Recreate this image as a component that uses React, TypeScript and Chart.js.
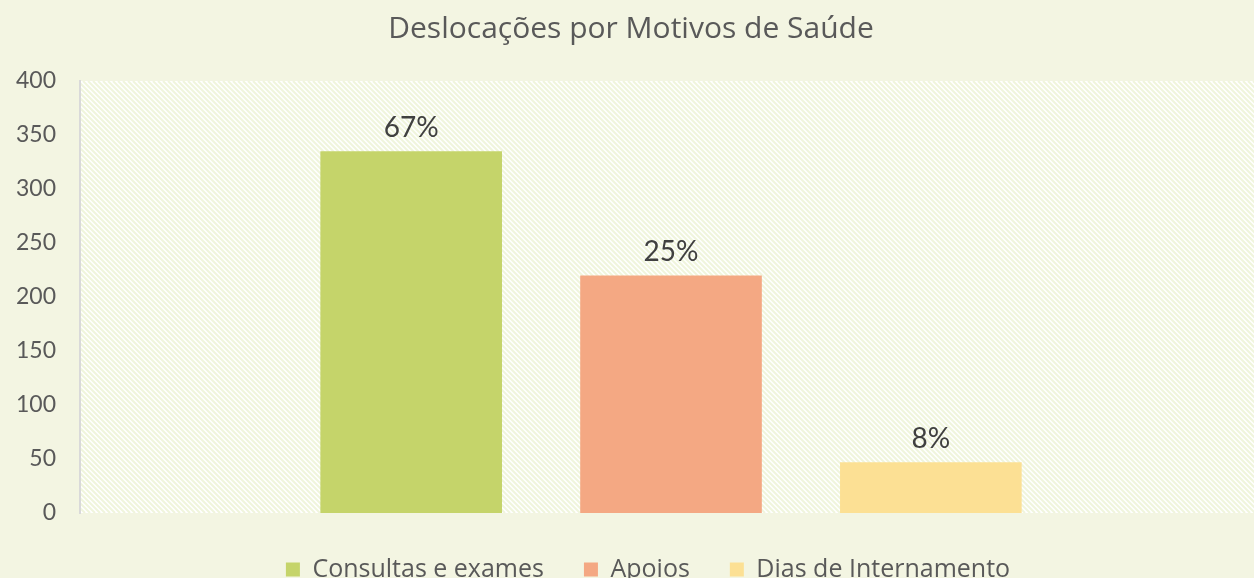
import React, { useEffect, useRef } from "react";
import { Chart, registerables } from "chart.js";

Chart.register(...registerables);

const categories = [""];
const seriesNames = ["Consultas e exames", "Apoios", "Dias de Internamento"];
const seriesValues = [[335], [220], [47]];
const percentLabels = ["67%", "25%", "8%"];
const seriesColors = ["#C5D46A", "#F4A883", "#FCE094"];
const yTicks = [0, 50, 100, 150, 200, 250, 300, 350, 400];

const BG = "#F3F5E2";
const FONT_NUM = "Lato, 'Open Sans', sans-serif";
const FONT_TXT = "'Open Sans', Lato, sans-serif";

const plotBgPlugin = {
  id: "plotBg",
  beforeDraw(chart: any) {
    const { ctx, chartArea } = chart;
    const { left, top, right, bottom } = chartArea;
    ctx.save();
    ctx.fillStyle = "#FFFFFF";
    ctx.fillRect(left, top, right - left, bottom - top);
    ctx.beginPath();
    ctx.rect(left, top, right - left, bottom - top);
    ctx.clip();
    ctx.strokeStyle = "#F0F5DC";
    ctx.lineWidth = 2;
    const h = bottom - top;
    for (let x = left - h; x < right + 10; x += 5) {
      ctx.beginPath();
      ctx.moveTo(x, top);
      ctx.lineTo(x + h, bottom);
      ctx.stroke();
    }
    ctx.restore();
  },
};

const legendShiftPlugin = {
  id: "legendShift",
  afterLayout(chart: any) {
    const l = chart.legend;
    if (l) {
      l.left += 17;
      l.right += 17;
      l.top -= 4;
      l.bottom -= 4;
    }
  },
};

const dataLabelPlugin = {
  id: "dataLabels",
  afterDatasetsDraw(chart: any) {
    const { ctx } = chart;
    ctx.save();
    ctx.fillStyle = "#404040";
    ctx.font = `28px ${FONT_NUM}`;
    ctx.textAlign = "center";
    ctx.textBaseline = "bottom";
    chart.data.datasets.forEach((_: any, i: number) => {
      const meta = chart.getDatasetMeta(i);
      meta.data.forEach((bar: any) => {
        ctx.fillText(percentLabels[i], bar.x, bar.y - 9);
      });
    });
    ctx.restore();
  },
};

export default function App() {
  const ref = useRef<HTMLCanvasElement>(null);
  useEffect(() => {
    if (!ref.current) return;
    const chart = new Chart(ref.current, {
      type: "bar",
      data: {
        labels: categories,
        datasets: seriesNames.map((name, i) => ({
          label: name,
          data: seriesValues[i],
          backgroundColor: seriesColors[i],
          borderWidth: 0,
          barPercentage: 0.699,
          categoryPercentage: 0.6595,
        })),
      },
      options: {
        animation: false,
        responsive: false,
        maintainAspectRatio: false,
        layout: { padding: { left: 0, right: 0, top: 0, bottom: 0 } },
        plugins: {
          title: {
            display: true,
            text: "Deslocações por Motivos de Saúde",
            color: "#595959",
            font: { family: FONT_TXT, size: 30, weight: "normal" },
            padding: { top: 11, bottom: 34 },
          },
          legend: {
            position: "bottom",
            labels: {
              color: "#595959",
              font: { family: FONT_TXT, size: 25 },
              boxWidth: 14,
              boxHeight: 14,
              padding: 40,
            },
          },
          tooltip: { enabled: false },
        },
        scales: {
          x: {
            grid: { display: false },
            border: { display: false },
            ticks: { display: false },
          },
          y: {
            min: 0,
            max: 400,
            afterBuildTicks: (axis: any) => {
              axis.ticks = yTicks.map((v) => ({ value: v }));
            },
            grid: { display: false },
            border: { display: true, color: "#D9D9D9", width: 2 },
            ticks: {
              color: "#595959",
              font: { family: FONT_NUM, size: 23 },
              padding: 16,
            },
          },
        },
      },
      plugins: [plotBgPlugin, dataLabelPlugin, legendShiftPlugin],
    });
    return () => chart.destroy();
  }, []);

  return (
    <div
      style={{
        position: "fixed",
        left: 0,
        top: 0,
        width: 1254,
        height: 578,
        overflow: "hidden",
        background: BG,
      }}
    >
      <canvas ref={ref} width={1262} height={596} style={{ display: "block" }} />
    </div>
  );
}
